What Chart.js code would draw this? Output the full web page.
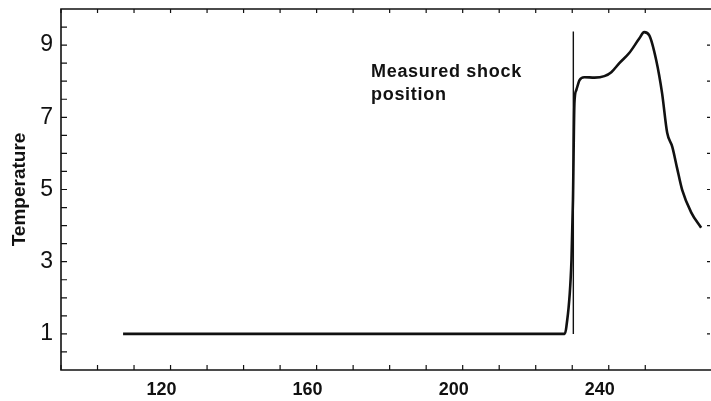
<!DOCTYPE html>
<html>
<head>
<meta charset="utf-8">
<script src="https://cdn.jsdelivr.net/npm/chart.js@4.4.1/dist/chart.umd.min.js"></script>
<style>
  html, body { margin: 0; padding: 0; background: #fff; }
  #wrap { width: 711px; height: 401px; }
</style>
</head>
<body>
<div id="wrap"><canvas id="myChart"></canvas></div>
<script>
// temperature profile
const positions = [107, 227.9, 228.4, 229.8, 230.2, 230.6, 231.1, 232.0, 233.3, 236.1, 238.8, 240.7, 242.9, 245.6, 248.4, 249.7, 251.1, 253.0, 254.6, 256.0, 257.4, 258.7, 260.1, 262.6, 265.3];
const temps = [1.0, 1.0, 1.2, 3.06, 4.72, 7.39, 7.75, 8.03, 8.11, 8.10, 8.14, 8.25, 8.5, 8.78, 9.19, 9.36, 9.27, 8.58, 7.67, 6.57, 6.18, 5.6, 4.99, 4.36, 3.94];

// measured shock position (thin vertical marker)
const shockX = [230.3, 230.3];
const shockY = [1.0, 9.38];

const xLabels = [120, 160, 200, 240];
const yLabels = [1, 3, 5, 7, 9];
const noteLines = ["Measured shock", "position"];

const ink = "#111";

function toPoints(xs, ys) {
  return xs.map(function (x, i) { return { x: x, y: ys[i] }; });
}

// frame with inward ticks, and the text note
const framePlugin = {
  id: "frame",
  afterDraw: function (chart) {
    var ctx = chart.ctx;
    var a = chart.chartArea;
    var xs = chart.scales.x;
    var ys = chart.scales.y;
    ctx.save();
    ctx.strokeStyle = ink;
    ctx.lineWidth = 1.6;
    ctx.beginPath();
    ctx.moveTo(a.right, a.top);
    ctx.lineTo(a.left, a.top);
    ctx.lineTo(a.left, a.bottom);
    ctx.lineTo(a.right, a.bottom);
    ctx.stroke();

    ctx.lineWidth = 1.2;
    ctx.beginPath();
    xs.ticks.forEach(function (t) {
      var px = xs.getPixelForValue(t.value);
      ctx.moveTo(px, a.bottom);
      ctx.lineTo(px, a.bottom - 5);
      ctx.moveTo(px, a.top);
      ctx.lineTo(px, a.top + 4);
    });
    ys.ticks.forEach(function (t) {
      if (t.value <= 0 || t.value >= 10) return;
      var py = ys.getPixelForValue(t.value);
      ctx.moveTo(a.left, py);
      ctx.lineTo(a.left + 6, py);
      if (Number.isInteger(t.value)) {
        ctx.moveTo(a.right - 1, py);
        ctx.lineTo(a.right - 4, py);
      }
    });
    ctx.stroke();

    ctx.fillStyle = ink;
    ctx.font = "bold 18px 'Liberation Sans', Arial, sans-serif";
    if ("letterSpacing" in ctx) ctx.letterSpacing = "0.7px";
    ctx.textBaseline = "alphabetic";
    ctx.textAlign = "left";
    ctx.fillText(noteLines[0], 371, 77);
    ctx.fillText(noteLines[1], 371, 100);
    ctx.restore();
  }
};

new Chart("myChart", {
  type: "scatter",
  data: {
    datasets: [{
      label: "temperature",
      data: toPoints(positions, temps),
      showLine: true,
      borderColor: ink,
      borderWidth: 2.6,
      pointRadius: 0,
      cubicInterpolationMode: "monotone",
      fill: false
    }, {
      label: "shock",
      data: toPoints(shockX, shockY),
      showLine: true,
      borderColor: ink,
      borderWidth: 1.4,
      pointRadius: 0,
      fill: false
    }]
  },
  options: {
    responsive: true,
    maintainAspectRatio: false,
    animation: false,
    layout: { padding: { top: 9, right: 0, left: 0, bottom: 0 } },
    plugins: {
      legend: { display: false },
      tooltip: { enabled: false }
    },
    scales: {
      x: {
        type: "linear",
        min: 90,
        max: 268,
        grid: { display: false, drawTicks: false },
        border: { display: false },
        afterBuildTicks: function (scale) {
          scale.ticks = scale.ticks.filter(function (t) { return t.value % 10 === 0; });
        },
        afterFit: function (scale) {
          scale.height = 31;
          scale.paddingLeft = 0;
          scale.paddingRight = 0;
        },
        ticks: {
          stepSize: 10,
          autoSkip: false,
          maxRotation: 0,
          padding: 9,
          labelOffset: -9,
          color: ink,
          font: { family: "'Liberation Sans', Arial, sans-serif", size: 18, weight: "bold" },
          callback: function (v) { return xLabels.indexOf(v) >= 0 ? String(v) : ""; }
        }
      },
      y: {
        type: "linear",
        min: 0,
        max: 10,
        grid: { display: false, drawTicks: false },
        border: { display: false },
        afterFit: function (scale) {
          scale.width = 61;
          scale.paddingTop = 0;
          scale.paddingBottom = 0;
        },
        title: {
          display: true,
          text: "Temperature",
          color: ink,
          padding: { top: 8, bottom: 0 },
          font: { family: "'Liberation Sans', Arial, sans-serif", size: 19, weight: "bold" }
        },
        ticks: {
          stepSize: 0.5,
          autoSkip: false,
          padding: 8,
          color: ink,
          font: { family: "'Liberation Sans', Arial, sans-serif", size: 23 },
          callback: function (v) { return yLabels.indexOf(v) >= 0 ? String(v) : ""; }
        }
      }
    }
  },
  plugins: [framePlugin]
});
</script>
</body>
</html>
